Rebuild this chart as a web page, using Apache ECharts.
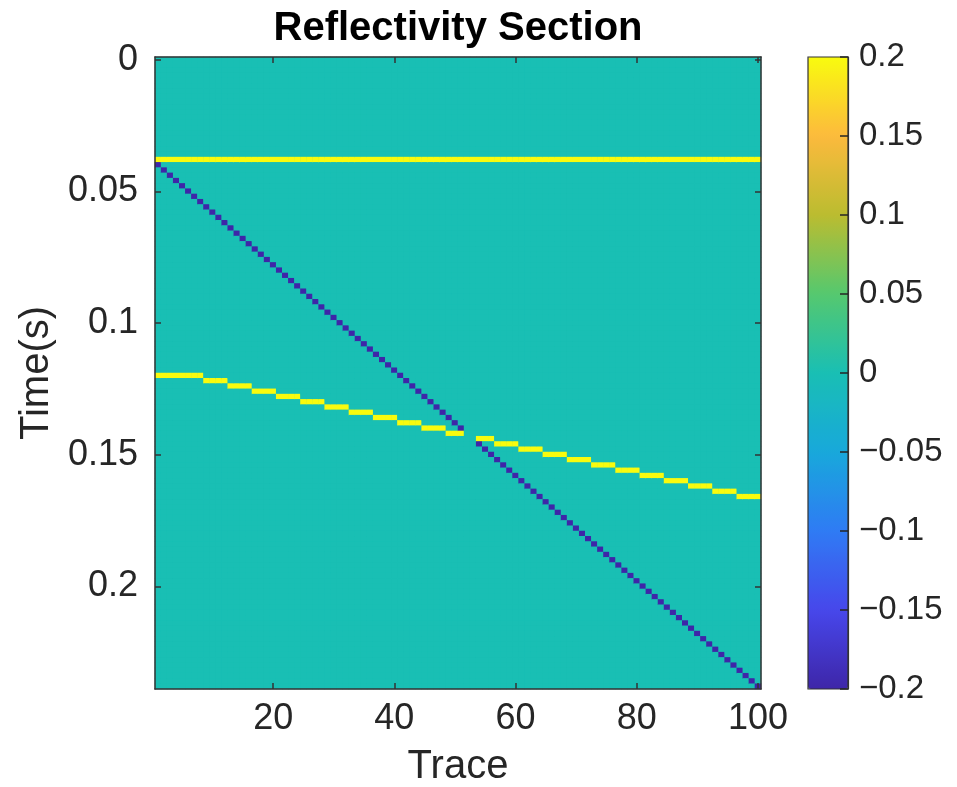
<!DOCTYPE html>
<html><head><meta charset="utf-8">
<script src="https://cdn.jsdelivr.net/npm/echarts@6/dist/echarts.min.js"></script>
<style>html,body{margin:0;padding:0;background:#fff}#c{width:957px;height:787px}</style>
</head><body><div id="c"></div>
<script>
// ---- data ----
const nTraces = 100;             // traces 1..100
const dt = 0.002;                // sample interval (s)
const nSamples = 120;            // 0 .. 0.238 s
const traces = Array.from({length: nTraces}, (_, i) => String(i + 1));
const times = Array.from({length: nSamples}, (_, i) => (i * dt).toFixed(3));

const xTickLabels = ['20', '40', '60', '80', '100'];
const yTickLabels = ['0', '0.05', '0.1', '0.15', '0.2'];
const cbarTicks = [0.2, 0.15, 0.1, 0.05, 0, -0.05, -0.1, -0.15, -0.2];

// flat reflector (all traces)
const flatTime = 0.038;
const flatAmp = 0.2;
// steep diagonal reflector, time per trace
const diagTimes = [
 0.040,0.042,0.044,0.046,0.048,0.050,0.052,0.054,0.056,0.058,
 0.060,0.062,0.064,0.066,0.068,0.070,0.072,0.074,0.076,0.078,
 0.080,0.082,0.084,0.086,0.088,0.090,0.092,0.094,0.096,0.098,
 0.100,0.102,0.104,0.106,0.108,0.110,0.112,0.114,0.116,0.118,
 0.120,0.122,0.124,0.126,0.128,0.130,0.132,0.134,0.136,0.138,
 0.140,0.142,0.144,0.146,0.148,0.150,0.152,0.154,0.156,0.158,
 0.160,0.162,0.164,0.166,0.168,0.170,0.172,0.174,0.176,0.178,
 0.180,0.182,0.184,0.186,0.188,0.190,0.192,0.194,0.196,0.198,
 0.200,0.202,0.204,0.206,0.208,0.210,0.212,0.214,0.216,0.218,
 0.220,0.222,0.224,0.226,0.228,0.230,0.232,0.234,0.236,0.238];
const diagAmp = -0.2;
// gently dipping reflector, time per trace
const dipTimes = [
 0.120,0.120,0.120,0.120,0.120,0.120,0.120,0.120,0.122,0.122,
 0.122,0.122,0.124,0.124,0.124,0.124,0.126,0.126,0.126,0.126,
 0.128,0.128,0.128,0.128,0.130,0.130,0.130,0.130,0.132,0.132,
 0.132,0.132,0.134,0.134,0.134,0.134,0.136,0.136,0.136,0.136,
 0.138,0.138,0.138,0.138,0.140,0.140,0.140,0.140,0.142,0.142,
 0.142,0.142,0.144,0.144,0.144,0.144,0.146,0.146,0.146,0.146,
 0.148,0.148,0.148,0.148,0.150,0.150,0.150,0.150,0.152,0.152,
 0.152,0.152,0.154,0.154,0.154,0.154,0.156,0.156,0.156,0.156,
 0.158,0.158,0.158,0.158,0.160,0.160,0.160,0.160,0.162,0.162,
 0.162,0.162,0.164,0.164,0.164,0.164,0.166,0.166,0.166,0.166];
const dipAmp = 0.2;

const parula = ['#3E26A8','#4747EB','#2F7BF4','#18A8DB','#19BFB4','#55C86F','#BBBC30','#FCBA3D','#F9FB0E'];

// ---- build the section ----
const data = [];
const flatRow = Math.round(flatTime / dt);
for (let x = 0; x < nTraces; x++) {
  const col = new Array(nSamples).fill(0);
  col[flatRow] += flatAmp;
  col[Math.round(diagTimes[x] / dt)] += diagAmp;
  col[Math.round(dipTimes[x] / dt)] += dipAmp;
  for (let y = 0; y < nSamples; y++) data.push([x, y, +col[y].toFixed(4)]);
}

const FONT = '"Liberation Sans", Helvetica, Arial, sans-serif';
const TXT = '#262626';
const lineStyle = {color: '#333333', width: 1.5};
const xShow = (i, v) => xTickLabels.indexOf(String(v)) >= 0;
const yShow = (i, v) => yTickLabels.indexOf(String(parseFloat(v))) >= 0;

const chart = echarts.init(document.getElementById('c'), null, {renderer: 'canvas'});
chart.setOption({
  animation: false,
  backgroundColor: '#ffffff',
  title: {
    text: 'Reflectivity Section', left: 458, top: 9, textAlign: 'center', padding: 0,
    textStyle: {fontFamily: FONT, fontSize: 40, fontWeight: 'bold', color: '#000'}
  },
  grid: [
    {left: 155, top: 57, width: 606, height: 632, show: true, backgroundColor: parula[4], borderWidth: 0,
     containLabel: false, outerBoundsMode: 'none'},
    {left: 808, top: 57, width: 40, height: 632, show: true, backgroundColor: 'transparent', borderColor: '#333333', borderWidth: 1.2, z: 10, zlevel: 1,
     containLabel: false, outerBoundsMode: 'none'}
  ],
  xAxis: [
    {type: 'category', gridIndex: 0, data: traces, position: 'bottom',
     name: 'Trace', nameLocation: 'middle', nameGap: 58,
     nameTextStyle: {fontFamily: FONT, fontSize: 40, color: TXT},
     axisLine: {show: true, onZero: false, lineStyle}, splitLine: {show: false},
     axisTick: {show: true, inside: true, length: 6, alignWithLabel: true, interval: xShow, lineStyle},
     axisLabel: {interval: xShow, margin: 12, fontFamily: FONT, fontSize: 36, color: TXT}, z: 5},
    {type: 'category', gridIndex: 0, data: traces, position: 'top',
     axisLine: {show: true, onZero: false, lineStyle}, splitLine: {show: false},
     axisTick: {show: true, inside: true, length: 6, alignWithLabel: true, interval: xShow, lineStyle},
     axisLabel: {show: false}, z: 5},
    {type: 'value', gridIndex: 1, show: false, min: 0, max: 1, axisLine: {onZero: false}}
  ],
  yAxis: [
    {type: 'category', gridIndex: 0, data: times, inverse: true, position: 'left',
     name: 'Time(s)', nameLocation: 'middle', nameGap: 97, nameRotate: 90,
     nameTextStyle: {fontFamily: FONT, fontSize: 40, color: TXT},
     axisLine: {show: true, onZero: false, lineStyle}, splitLine: {show: false},
     axisTick: {show: true, inside: true, length: 6, alignWithLabel: true, interval: yShow, lineStyle},
     axisLabel: {interval: yShow, margin: 17, fontFamily: FONT, fontSize: 36, color: TXT,
                 formatter: v => String(parseFloat(v))}, z: 5},
    {type: 'category', gridIndex: 0, data: times, inverse: true, position: 'right',
     axisLine: {show: true, onZero: false, lineStyle}, splitLine: {show: false},
     axisTick: {show: true, inside: true, length: 6, alignWithLabel: true, interval: yShow, lineStyle},
     axisLabel: {show: false}, z: 5},
    {type: 'value', gridIndex: 1, position: 'right', min: -0.2, max: 0.2, interval: 0.05,
     axisLine: {show: true, onZero: false, lineStyle: {color: '#333333', width: 1.2}}, splitLine: {show: false},
     axisTick: {show: true, inside: true, length: 8, lineStyle: {color: '#262626', width: 1.5}},
     axisLabel: {margin: 11, fontFamily: FONT, fontSize: 33, color: TXT,
                 formatter: v => { const r = Math.round(v * 100) / 100; return (r < 0 ? '\u2212' : '') + String(Math.abs(r)); }},
     z: 20, zlevel: 1}
  ],
  visualMap: {
    type: 'continuous', seriesIndex: 0, min: -0.2, max: 0.2, calculable: false, hoverLink: false,
    orient: 'vertical', left: 808, top: 57, itemWidth: 40, itemHeight: 632, padding: 0, z: 1,
    text: null, showLabel: false, inRange: {color: parula}
  },
  series: [{
    type: 'heatmap', xAxisIndex: 0, yAxisIndex: 0, data: data,
    progressive: 0, silent: true, emphasis: {disabled: true}
  }]
});
</script></body></html>
